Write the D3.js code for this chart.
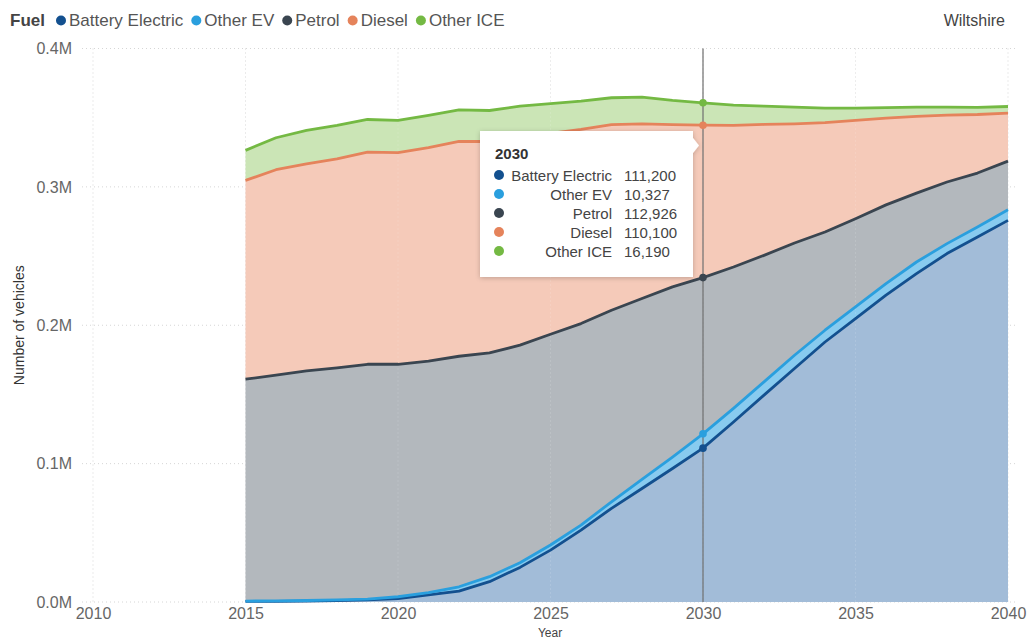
<!DOCTYPE html>
<html><head><meta charset="utf-8">
<script src="https://cdn.jsdelivr.net/npm/d3@7"></script>
<style>
html,body{margin:0;padding:0;background:#fff;}
svg{display:block;font-family:"Liberation Sans",Arial,sans-serif;}
</style></head>
<body><svg id="chart" width="1030" height="639"></svg>
<script>
// ---- data ----
const years = [2015,2016,2017,2018,2019,2020,2021,2022,2023,2024,2025,2026,2027,2028,2029,2030,2031,2032,2033,2034,2035,2036,2037,2038,2039,2040];
const batteryElectric = [400,500,700,1000,1500,2400,5100,7900,14700,25000,37500,52000,67700,82000,96500,111200,130100,149500,168700,187900,204800,221700,237300,251800,263800,275800];
const otherEV = [300,300,400,500,600,1400,1600,3100,3600,3400,3700,3600,4700,6600,8200,10327,9800,9600,9600,8500,8400,8400,8400,7200,7200,7700];
const petrol = [160300,163100,165900,167700,169700,168000,167300,166600,161700,157200,152300,145600,138400,130700,123000,112926,102200,91400,81100,71000,63800,56900,49800,44500,39000,35100];
const diesel = [143700,148500,149700,151100,153300,152900,154300,155200,152800,150100,145100,140300,134200,126300,117300,110100,102300,94600,86200,79000,71000,62700,55400,48300,42300,34700];
const otherICE = [21700,23100,24100,24100,23600,23300,23300,22900,22400,22600,21500,20500,19400,19200,17500,16190,14700,13200,12000,10500,8900,7500,6700,5800,5100,4800];
const seriesNames = ["Battery Electric","Other EV","Petrol","Diesel","Other ICE"];
const xTicks = [2010,2015,2020,2025,2030,2035,2040];
const yTicks = [0,100000,200000,300000,400000];
const hoverYear = 2030;
const regionLabel = "Wiltshire";

// ---- styles ----
const lineColors = ["#13508f","#2a9fde","#3a4550","#e5835b","#74b943"];
const fillColors = ["#a2bcd8","#88cbef","#b3b8bd","#f5cab9","#cbe5b6"];

const svg = d3.select("#chart");
const x = d3.scaleLinear().domain([2010,2040]).range([93,1008]);
const y = d3.scaleLinear().domain([0,400000]).range([602,48.5]);

const table = years.map((yr,i)=>({year:yr,"Battery Electric":batteryElectric[i],"Other EV":otherEV[i],"Petrol":petrol[i],"Diesel":diesel[i],"Other ICE":otherICE[i]}));
const stacked = d3.stack().keys(seriesNames)(table);

// gridlines
const grid = svg.append("g");
grid.selectAll("line.h").data(yTicks).join("line")
  .attr("x1",82).attr("x2",1016).attr("y1",d=>y(d)).attr("y2",d=>y(d))
  .attr("stroke","#d6d6d6").attr("stroke-width",1).attr("stroke-dasharray","1,3");
grid.selectAll("line.v").data(xTicks).join("line")
  .attr("y1",y(400000)).attr("y2",y(0)).attr("x1",d=>x(d)).attr("x2",d=>x(d))
  .attr("stroke","#d6d6d6").attr("stroke-width",1).attr("stroke-dasharray","1,3");

// areas
const area = d3.area().x(d=>x(d.data.year)).y0(d=>y(d[0])).y1(d=>y(d[1]));
svg.append("g").selectAll("path").data(stacked).join("path")
  .attr("d",area).attr("fill",(d,i)=>fillColors[i]);

// vertical gridlines faintly over areas
svg.append("g").selectAll("line").data(xTicks.filter(t=>t>2015&&t<2040)).join("line")
  .attr("y1",y(400000)).attr("y2",y(0)).attr("x1",d=>x(d)).attr("x2",d=>x(d))
  .attr("stroke","#ffffff").attr("stroke-opacity",0.25).attr("stroke-dasharray","1,3");

// lines
const line = d3.line().x(d=>x(d.data.year)).y(d=>y(d[1]));
svg.append("g").selectAll("path").data(stacked).join("path")
  .attr("d",line).attr("fill","none").attr("stroke",(d,i)=>lineColors[i])
  .attr("stroke-width",2.8).attr("stroke-linejoin","round");

// axes
const xAxis = svg.append("g").attr("transform",`translate(0,${y(0)})`)
  .call(d3.axisBottom(x).tickValues(xTicks).tickFormat(d3.format("d")).tickSize(0).tickPadding(6));
xAxis.select(".domain").remove();
xAxis.selectAll("text").attr("font-size",16).attr("fill","#666").attr("font-family","Liberation Sans, Arial, sans-serif");

const yAxis = svg.append("g").attr("transform",`translate(72,0)`)
  .call(d3.axisLeft(y).tickValues(yTicks).tickFormat(d=>(d/1e6).toFixed(1)+"M").tickSize(0).tickPadding(0));
yAxis.select(".domain").remove();
yAxis.selectAll("text").attr("font-size",16).attr("fill","#666").attr("font-family","Liberation Sans, Arial, sans-serif");

svg.append("text").attr("transform",`translate(24,${(y(0)+y(400000))/2}) rotate(-90)`)
  .attr("text-anchor","middle").attr("font-size",14).attr("fill","#333").text("Number of vehicles");
svg.append("text").attr("x",550).attr("y",637).attr("text-anchor","middle")
  .attr("font-size",12).attr("fill","#444").text("Year");

// crosshair
const hx = x(hoverYear);
svg.append("line").attr("x1",hx).attr("x2",hx).attr("y1",y(400000)).attr("y2",y(0))
  .attr("stroke","#6e6e6e").attr("stroke-width",1.2);
const hi = years.indexOf(hoverYear);
svg.append("g").selectAll("circle").data(stacked).join("circle")
  .attr("cx",hx).attr("cy",d=>y(d[hi][1])).attr("r",3.8).attr("fill",(d,i)=>lineColors[i]);

// legend
const lg = svg.append("g").attr("font-size",17).attr("fill","#555");
lg.append("text").attr("x",10).attr("y",26).attr("font-weight","bold").attr("fill","#444").text("Fuel");
let lx = 61;
seriesNames.forEach((n,i)=>{
  lg.append("circle").attr("cx",lx).attr("cy",20.5).attr("r",5).attr("fill",lineColors[i]);
  const t = lg.append("text").attr("x",lx+8).attr("y",26).text(n);
  lx += 8 + t.node().getComputedTextLength() + 13;
});
svg.append("text").attr("x",1005).attr("y",26).attr("text-anchor","end")
  .attr("font-size",16).attr("fill","#444").text(regionLabel);

// tooltip
const defs = svg.append("defs");
const f = defs.append("filter").attr("id","sh").attr("x","-10%").attr("y","-10%").attr("width","130%").attr("height","130%");
f.append("feDropShadow").attr("dx",0).attr("dy",1).attr("stdDeviation",2.5).attr("flood-color","#000").attr("flood-opacity",0.22);
const tw = 213, th = 146, tx = hx - 10 - tw, ty = 131;
const tg = svg.append("g");
tg.append("path").attr("filter","url(#sh)").attr("fill","#fff")
  .attr("d",`M${tx},${ty} H${tx+tw} V${ty+7} L${tx+tw+6},${ty+14.5} L${tx+tw},${ty+22} V${ty+th} H${tx} Z`);
tg.append("text").attr("x",tx+15).attr("y",ty+28).attr("font-size",15).attr("font-weight","bold").attr("fill","#333").text(String(hoverYear));
const vals = [batteryElectric[hi],otherEV[hi],petrol[hi],diesel[hi],otherICE[hi]];
const fmt = d3.format(",");
seriesNames.forEach((n,i)=>{
  const cy = ty + 44 + i*19;
  tg.append("circle").attr("cx",tx+19).attr("cy",cy).attr("r",5).attr("fill",lineColors[i]);
  tg.append("text").attr("x",tx+132).attr("y",cy+5.5).attr("text-anchor","end").attr("font-size",15).attr("fill","#444").text(n);
  tg.append("text").attr("x",tx+144).attr("y",cy+5.5).attr("font-size",15).attr("fill","#444").text(fmt(vals[i]));
});
</script></body></html>
